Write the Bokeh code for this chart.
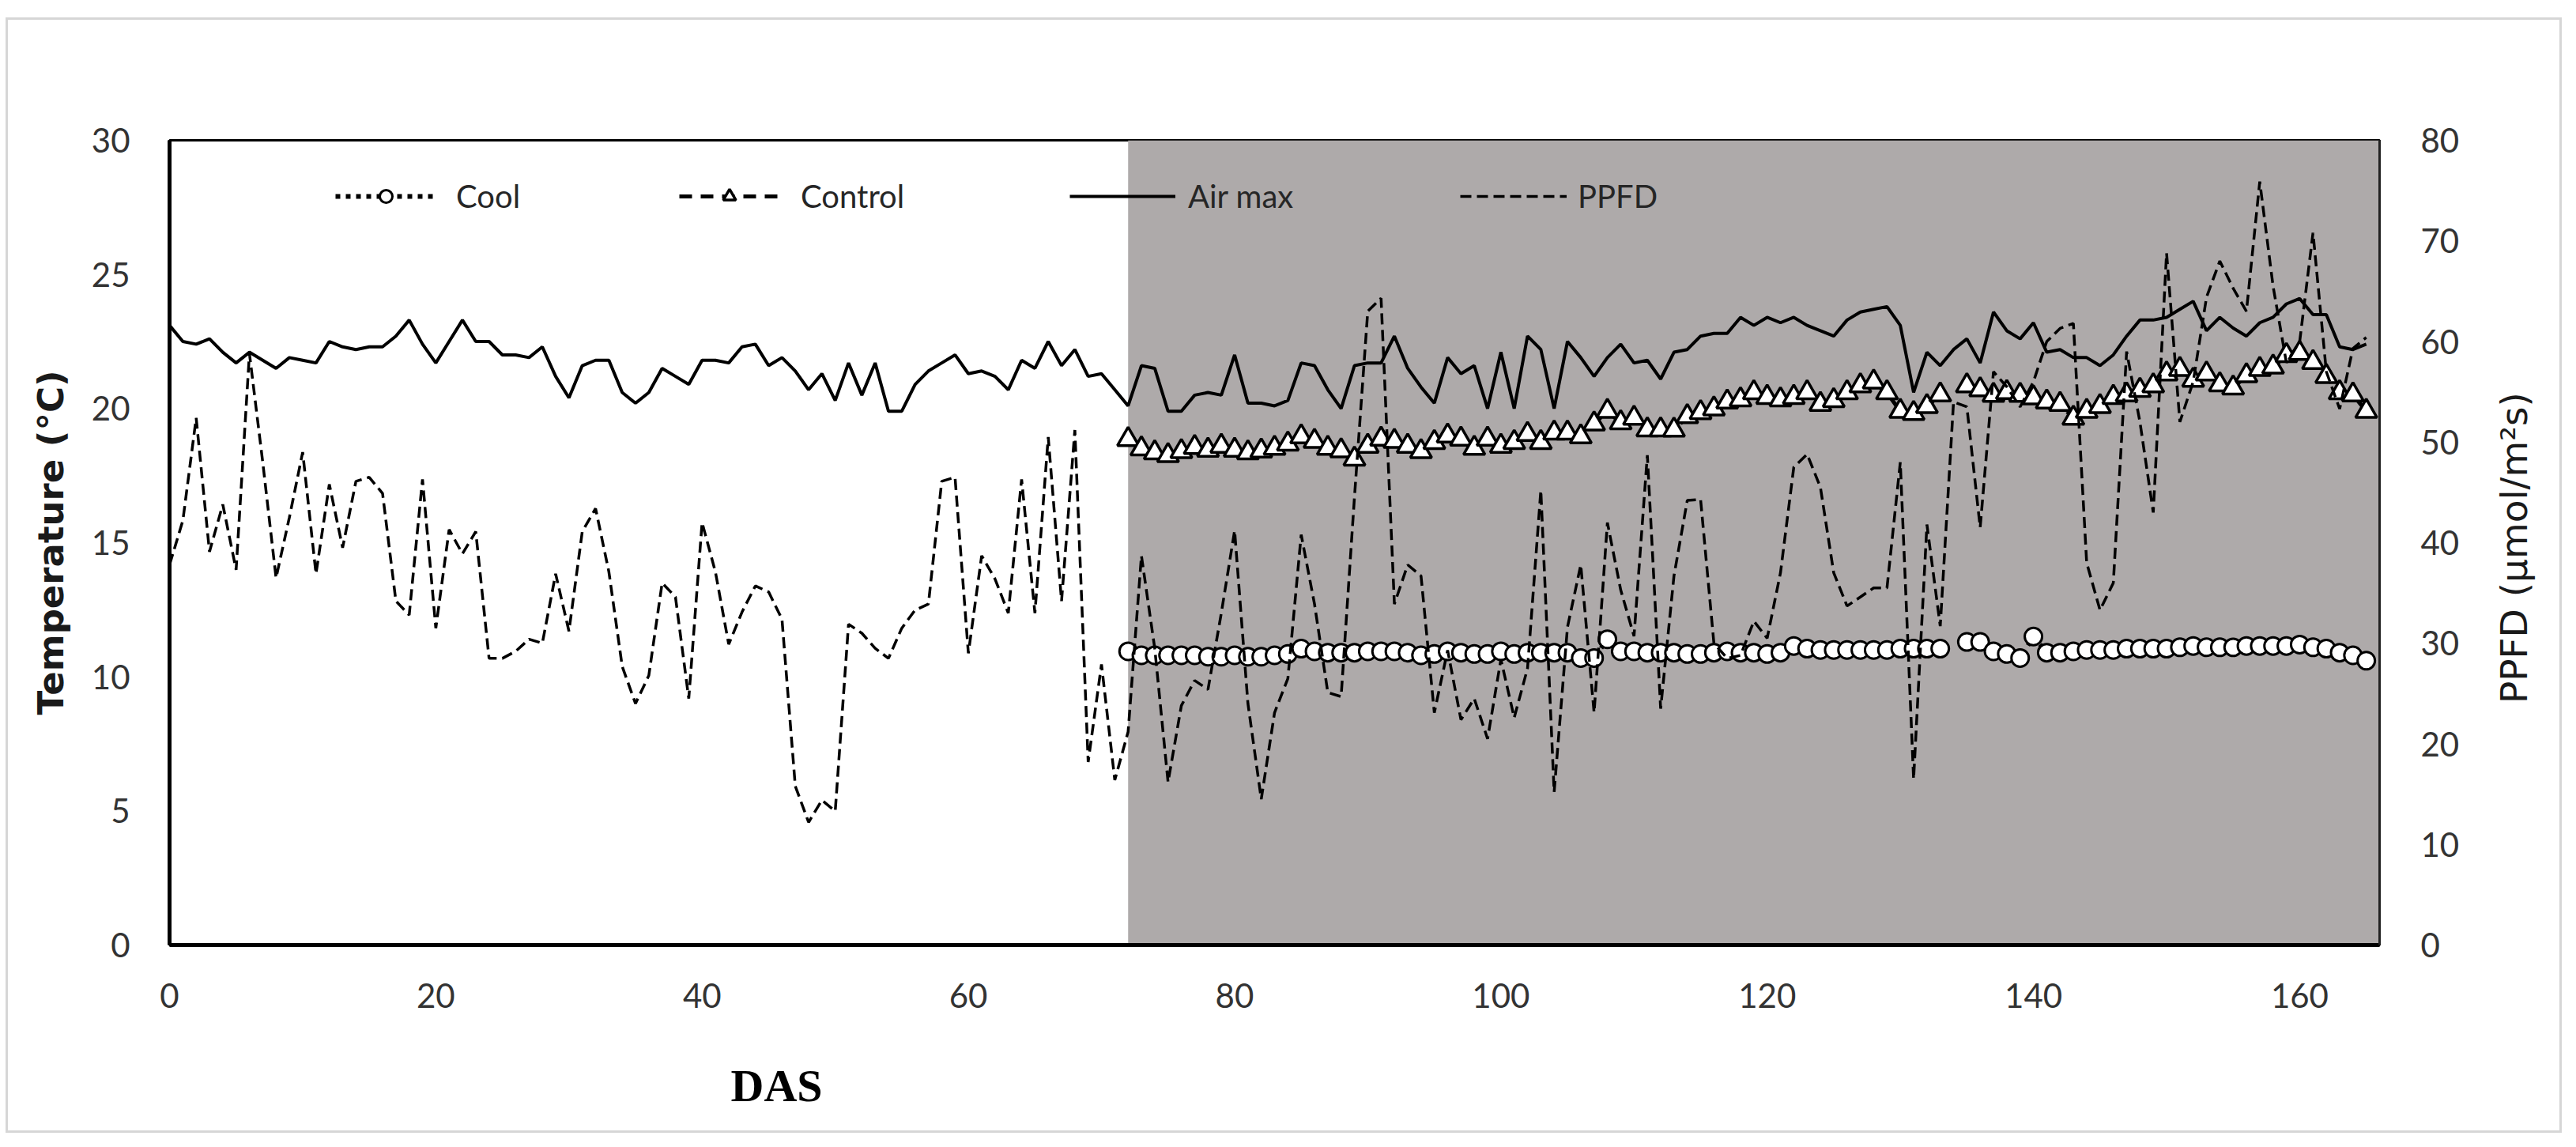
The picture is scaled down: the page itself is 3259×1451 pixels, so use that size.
import math
from bokeh.plotting import figure
from bokeh.models import (Range1d, LinearAxis, BoxAnnotation, Legend, LegendItem,
                          FixedTicker)
from bokeh.embed import file_html
from bokeh.resources import INLINE

nan = float("nan")

# ---------------- data ----------------
das = list(range(0, 166))
treat_das = list(range(72, 166))
shade_start = 72

air_max = [
    23.1, 22.5, 22.4, 22.6, 22.1, 21.7, 22.1, 21.8, 21.5, 21.9,
    21.8, 21.7, 22.5, 22.3, 22.2, 22.3, 22.3, 22.7, 23.3, 22.4,
    21.7, 22.5, 23.3, 22.5, 22.5, 22.0, 22.0, 21.9, 22.3, 21.2,
    20.4, 21.6, 21.8, 21.8, 20.6, 20.2, 20.6, 21.5, 21.2, 20.9,
    21.8, 21.8, 21.7, 22.3, 22.4, 21.6, 21.9, 21.4, 20.7, 21.3,
    20.3, 21.7, 20.5, 21.7, 19.9, 19.9, 20.9, 21.4, 21.7, 22.0,
    21.3, 21.4, 21.2, 20.7, 21.8, 21.5, 22.5, 21.6, 22.2, 21.2,
    21.3, 20.7, 20.1, 21.6, 21.5, 19.9, 19.9, 20.5, 20.6, 20.5,
    22.0, 20.2, 20.2, 20.1, 20.3, 21.7, 21.6, 20.7, 20.0, 21.6,
    21.7, 21.7, 22.7, 21.5, 20.8, 20.2, 21.9, 21.3, 21.6, 20.0,
    22.1, 20.0, 22.7, 22.2, 20.0, 22.5, 21.9, 21.2, 21.9, 22.4,
    21.7, 21.8, 21.1, 22.1, 22.2, 22.7, 22.8, 22.8, 23.4, 23.1,
    23.4, 23.2, 23.4, 23.1, 22.9, 22.7, 23.3, 23.6, 23.7, 23.8,
    23.1, 20.6, 22.1, 21.6, 22.2, 22.6, 21.7, 23.6, 22.9, 22.6,
    23.2, 22.1, 22.2, 21.9, 21.9, 21.6, 22.0, 22.7, 23.3, 23.3,
    23.4, 23.7, 24.0, 22.9, 23.4, 23.0, 22.7, 23.2, 23.4, 23.9,
    24.1, 23.5, 23.5, 22.3, 22.2, 22.4,
]

ppfd = [
    37.8, 42.2, 52.4, 39.1, 43.8, 37.3, 58.8, 48.0, 36.5, 42.5,
    49.0, 36.9, 45.8, 39.5, 46.1, 46.5, 44.9, 34.2, 32.8, 46.3,
    31.5, 41.3, 38.9, 41.1, 28.5, 28.5, 29.2, 30.4, 30.0, 36.9,
    31.2, 41.1, 43.4, 37.1, 27.7, 24.0, 26.8, 36.0, 34.6, 24.5,
    42.0, 37.1, 29.9, 33.1, 35.7, 35.1, 32.4, 15.8, 12.2, 14.4,
    13.3, 31.9, 31.0, 29.5, 28.5, 31.5, 33.3, 33.9, 46.1, 46.5,
    29.0, 38.7, 36.4, 33.0, 46.3, 33.0, 50.5, 34.2, 51.2, 18.2,
    27.9, 16.4, 21.2, 38.7, 29.5, 16.2, 23.8, 26.3, 25.4, 33.0,
    41.2, 24.0, 14.5, 23.1, 26.5, 40.8, 33.9, 25.1, 24.7, 44.5,
    63.0, 64.3, 33.9, 37.8, 36.7, 23.1, 29.3, 22.4, 24.5, 20.5,
    28.4, 22.6, 27.5, 45.2, 15.2, 31.6, 37.8, 23.1, 42.0, 35.3,
    30.7, 48.7, 23.5, 36.7, 44.2, 44.3, 30.0, 28.5, 28.8, 32.2,
    30.5, 37.0, 47.5, 48.8, 45.5, 37.0, 33.7, 34.6, 35.5, 35.5,
    48.0, 16.5, 41.8, 31.7, 54.0, 53.5, 41.5, 57.0, 55.5, 53.5,
    56.0, 60.0, 61.3, 61.8, 38.0, 33.3, 36.0, 59.0, 52.0, 43.0,
    68.8, 52.0, 56.0, 64.4, 68.0, 65.3, 63.0, 75.9, 65.5, 57.9,
    60.0, 70.8, 57.0, 53.3, 59.3, 60.4,
]

cool = [
    10.95, 10.8, 10.8, 10.8, 10.8, 10.8, 10.75, 10.75,
    10.8, 10.75, 10.75, 10.8, 10.85, 11.05, 10.95, 10.9, 10.9, 10.9,
    10.95, 10.95, 10.95, 10.9, 10.8, 10.85, 10.95, 10.9, 10.85, 10.85,
    10.95, 10.85, 10.9, 10.9, 10.9, 10.9, 10.7, 10.7, 11.4, 10.95,
    10.95, 10.9, 10.9, 10.9, 10.85, 10.85, 10.9, 10.95, 10.9, 10.9,
    10.85, 10.9, 11.15, 11.05, 11.0, 11.0, 11.0, 11.0, 11.0, 11.0,
    11.05, 11.05, 11.05, 11.05, nan, 11.3, 11.3, 10.95, 10.85, 10.7,
    11.5, 10.9, 10.9, 10.95, 11.0, 11.0, 11.0, 11.05, 11.05, 11.05,
    11.05, 11.1, 11.15, 11.1, 11.1, 11.1, 11.15, 11.15, 11.15, 11.15,
    11.2, 11.1, 11.05, 10.9, 10.8, 10.6,
]

control = [
    18.85, 18.5, 18.35, 18.25, 18.4, 18.55, 18.45, 18.6,
    18.45, 18.35, 18.42, 18.52, 18.68, 18.95, 18.78, 18.52, 18.43, 18.12,
    18.6, 18.86, 18.78, 18.6, 18.4, 18.74, 18.98, 18.86, 18.52, 18.86,
    18.6, 18.74, 19.04, 18.74, 19.09, 19.09, 18.95, 19.43, 19.9, 19.47,
    19.64, 19.21, 19.21, 19.2, 19.7, 19.85, 19.99, 20.25, 20.33, 20.59,
    20.42, 20.33, 20.42, 20.59, 20.16, 20.3, 20.59, 20.85, 20.99, 20.59,
    19.9, 19.82, 20.08, 20.51, nan, 20.85, 20.7, 20.5, 20.6, 20.5,
    20.4, 20.25, 20.16, 19.64, 19.9, 20.08, 20.42, 20.51, 20.68, 20.85,
    21.29, 21.46, 21.06, 21.29, 20.89, 20.77, 21.23, 21.46, 21.55, 21.98,
    22.06, 21.72, 21.2, 20.59, 20.51, 19.9,
]

x_ticks = [0, 20, 40, 60, 80, 100, 120, 140, 160]
temp_ticks = [0, 5, 10, 15, 20, 25, 30]
ppfd_ticks = [0, 10, 20, 30, 40, 50, 60, 70, 80]

x_title = "DAS"
left_title = "Temperature (°C)"
right_title = "PPFD (µmol/m²s)"
x_title_pos = 45.6      # DAS where the x title sits
right_title_pos = 24.0  # PPFD value where the rotated right title starts

# ---------------- figure ----------------
W, H = 3228, 1405
p = figure(width=W, height=H, x_range=Range1d(0, 166), y_range=Range1d(0, 30),
           output_backend="svg", toolbar_location=None,
           min_border_left=204, min_border_right=218,
           min_border_top=152, min_border_bottom=235)
p.title.visible = False
p.xgrid.visible = False
p.ygrid.visible = False
p.background_fill_color = "white"
p.border_fill_color = "white"
p.outline_line_color = "black"
p.outline_line_width = 3
p.styles = {"position": "relative", "top": "25px", "left": "10px",
            "outline": "3px solid #D6D6D6"}

p.extra_y_ranges = {"ppfd": Range1d(0, 80)}

TICK_FONT = "Lato"
TICK_COLOR = "#333333"


def plain(ax):
    ax.major_tick_line_color = None
    ax.minor_tick_line_color = None
    ax.major_label_text_font = TICK_FONT
    ax.major_label_text_font_size = "42px"
    ax.major_label_text_color = TICK_COLOR


# bottom axis
xa = p.xaxis[0]
xa.ticker = FixedTicker(ticks=x_ticks)
xa.axis_line_width = 5
xa.axis_line_color = "black"
plain(xa)
xa.major_label_standoff = 42

# x title as a second, line-less axis below
xt = LinearAxis(ticker=FixedTicker(ticks=[x_title_pos]),
                major_label_overrides={x_title_pos: x_title})
plain(xt)
xt.axis_line_color = None
xt.major_label_text_font = "Liberation Serif"
xt.major_label_text_font_style = "bold"
xt.major_label_text_font_size = "58px"
xt.major_label_text_color = "black"
xt.major_label_standoff = 57
p.add_layout(xt, "below")

# left axis
ya = p.yaxis[0]
ya.ticker = FixedTicker(ticks=temp_ticks)
ya.axis_line_width = 5
ya.axis_line_color = "black"
plain(ya)
ya.major_label_standoff = 44
ya.axis_label = left_title
ya.axis_label_text_font = "DejaVu Sans"
ya.axis_label_text_font_style = "bold"
ya.axis_label_text_font_size = "45px"
ya.axis_label_text_color = "#1a1a1a"
ya.axis_label_standoff = 22

# right axis
ra = LinearAxis(y_range_name="ppfd", ticker=FixedTicker(ticks=ppfd_ticks))
ra.axis_line_width = 3
ra.axis_line_color = "#222222"
plain(ra)
ra.major_label_standoff = 46
p.add_layout(ra, "right")

# right title, rotated to read bottom-to-top
rt = LinearAxis(y_range_name="ppfd", ticker=FixedTicker(ticks=[right_title_pos]),
                major_label_overrides={right_title_pos: right_title},
                major_label_orientation=math.pi / 2)
plain(rt)
rt.axis_line_color = None
rt.major_label_text_font = "DejaVu Sans"
rt.major_label_text_font_size = "47px"
rt.major_label_text_color = "#1a1a1a"
rt.major_label_standoff = 60
p.add_layout(rt, "right")

# shaded period
p.add_layout(BoxAnnotation(left=shade_start, fill_color="#AEAAAA", fill_alpha=1.0,
                           line_color=None, level="underlay"))

# series
cool_line = p.line(treat_das, cool, line_color="black", line_width=6, line_dash="6 7")
cool_pts = p.scatter(treat_das, cool, marker="circle", size=22, fill_color="white",
                     line_color="black", line_width=3)
ctrl_line = p.line(treat_das, control, line_color="black", line_width=5, line_dash="16 11")
ctrl_pts = p.scatter(treat_das, control, marker="triangle", size=27, fill_color="white",
                     line_color="black", line_width=3.5)
air_line = p.line(das, air_max, line_color="black", line_width=4)
ppfd_line = p.line(das, ppfd, line_color="black", line_width=3.5, line_dash="14 7",
                   y_range_name="ppfd")

# legends (one per entry, placed like the reference)
legend_specs = [
    ("Cool", [cool_line, cool_pts], 210, 128, 25),
    ("Control", [ctrl_line, ctrl_pts], 645, 127, 27),
    ("Air max", [air_line], 1139, 134, 16),
    ("PPFD", [ppfd_line], 1633, 135, 14),
]
for name, rends, lx, gw, standoff in legend_specs:
    leg = Legend(items=[LegendItem(label=name, renderers=rends)],
                 location=(lx, 923), orientation="horizontal",
                 border_line_color=None, background_fill_alpha=0.0,
                 padding=0, margin=0, spacing=0,
                 glyph_width=gw, glyph_height=40, label_height=40,
                 label_standoff=standoff,
                 label_text_font="Lato", label_text_font_size="40px",
                 label_text_color="#262626")
    p.add_layout(leg, "center")

html = file_html(p, INLINE)
open("out.html", "w").write(html)
